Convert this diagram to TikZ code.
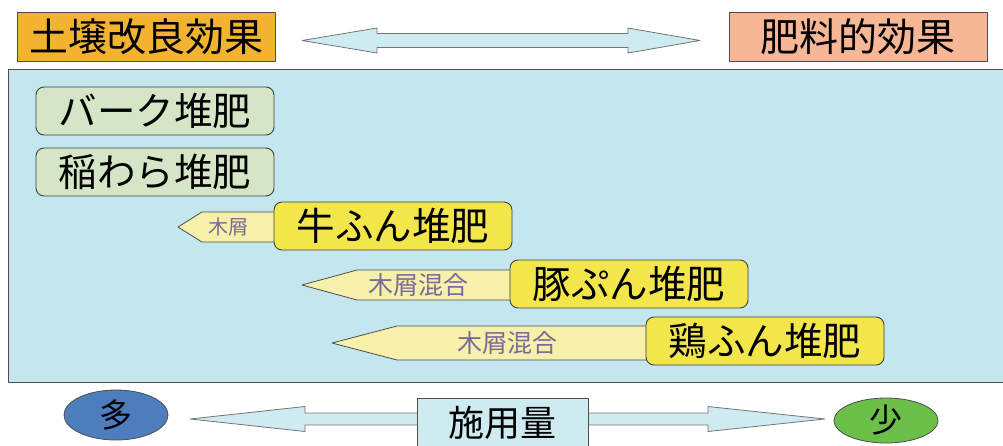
\documentclass[tikz,border=0pt]{standalone}
\usepackage{fontspec}
\newfontfamily\jpfont{Noto Sans CJK JP}
\usetikzlibrary{shapes.geometric}

\definecolor{soilorange}{RGB}{242,180,48}
\definecolor{fertsalmon}{RGB}{247,183,150}
\definecolor{panelblue}{RGB}{196,230,238}
\definecolor{arrowblue}{RGB}{205,235,240}
\definecolor{palegreen}{RGB}{212,230,198}
\definecolor{dungyellow}{RGB}{243,230,75}
\definecolor{woodyellow}{RGB}{246,240,170}
\definecolor{woodtext}{RGB}{122,106,154}
\definecolor{manyblue}{RGB}{78,125,190}
\definecolor{fewgreen}{RGB}{108,192,74}

\begin{document}
\begin{tikzpicture}[x=1pt,y=-1pt,line join=round,
  effbox/.style={draw=black!70,line width=0.8pt,inner sep=0pt,
    minimum width=258pt,minimum height=49pt,
    font=\jpfont\fontsize{39}{42}\selectfont},
  compost/.style={draw=black!75,line width=0.9pt,rounded corners=8pt,inner sep=0pt,
    minimum width=238pt,minimum height=48pt,
    font=\jpfont\fontsize{38.5}{42}\selectfont},
  woodarrow/.style={draw=black!70,line width=0.8pt,fill=woodyellow},
  woodlabel/.style={text=woodtext,inner sep=0pt},
  bigarrow/.style={draw=black!55,line width=0.8pt,fill=arrowblue},
  amount/.style={ellipse,draw=black!70,line width=0.8pt,inner sep=0pt,
    minimum width=104pt,
    font=\jpfont\fontsize{33}{36}\selectfont}]

\useasboundingbox (0,0) rectangle (1003,445);

% upper band
\node[effbox,fill=soilorange] (soil) at (146,37) {土壌改良効果};
\node[effbox,fill=fertsalmon] (fert) at (858,37) {肥料的効果};
\draw[bigarrow] (302,40.5) -- (377,28) -- (377,33.5) -- (628,33.5) -- (628,28)
  -- (700,40.5) -- (628,53) -- (628,47.5) -- (377,47.5) -- (377,53) -- cycle;

% panel
\fill[panelblue] (8,69) rectangle (1003,382);
\draw[black!70,line width=1pt] (1003,69) -- (8,69) -- (8,382) -- (1003,382);

% composts
\node[compost,fill=palegreen] (bark) at (155,111) {バーク堆肥};
\node[compost,fill=palegreen] (straw) at (155,172) {稲わら堆肥};

\draw[woodarrow] (178,227) -- (202,212) -- (285,212) -- (285,242) -- (202,242) -- cycle;
\node[woodlabel,font=\jpfont\fontsize{20}{22}\selectfont] (cowwood) at (228,227) {木屑};
\node[compost,fill=dungyellow] (cow) at (393,226) {牛ふん堆肥};

\draw[woodarrow] (302,285) -- (357,270) -- (520,270) -- (520,300) -- (357,300) -- cycle;
\node[woodlabel,font=\jpfont\fontsize{25}{27}\selectfont] (pigwood) at (418,285) {木屑混合};
\node[compost,fill=dungyellow] (pig) at (629,284) {豚ぷん堆肥};

\draw[woodarrow] (332,343) -- (397,326) -- (655,326) -- (655,360) -- (397,360) -- cycle;
\node[woodlabel,font=\jpfont\fontsize{25}{27}\selectfont] (henwood) at (507,343) {木屑混合};
\node[compost,fill=dungyellow] (hen) at (765,341) {鶏ふん堆肥};

% lower band
\draw[bigarrow] (190,419) -- (305,406.5) -- (305,413) -- (708,413) -- (708,406.5)
  -- (825,419) -- (708,431.5) -- (708,425) -- (305,425) -- (305,431.5) -- cycle;
\node[draw=black!70,line width=0.8pt,fill=arrowblue,inner sep=0pt,
  minimum width=171pt,minimum height=50pt,
  font=\jpfont\fontsize{36}{40}\selectfont] (rate) at (502.5,423) {施用量};
\node[amount,fill=manyblue,minimum height=50pt] (many) at (116,415) {多};
\node[amount,fill=fewgreen,minimum height=45pt] (few) at (886,420.5) {少};

\end{tikzpicture}
\end{document}
